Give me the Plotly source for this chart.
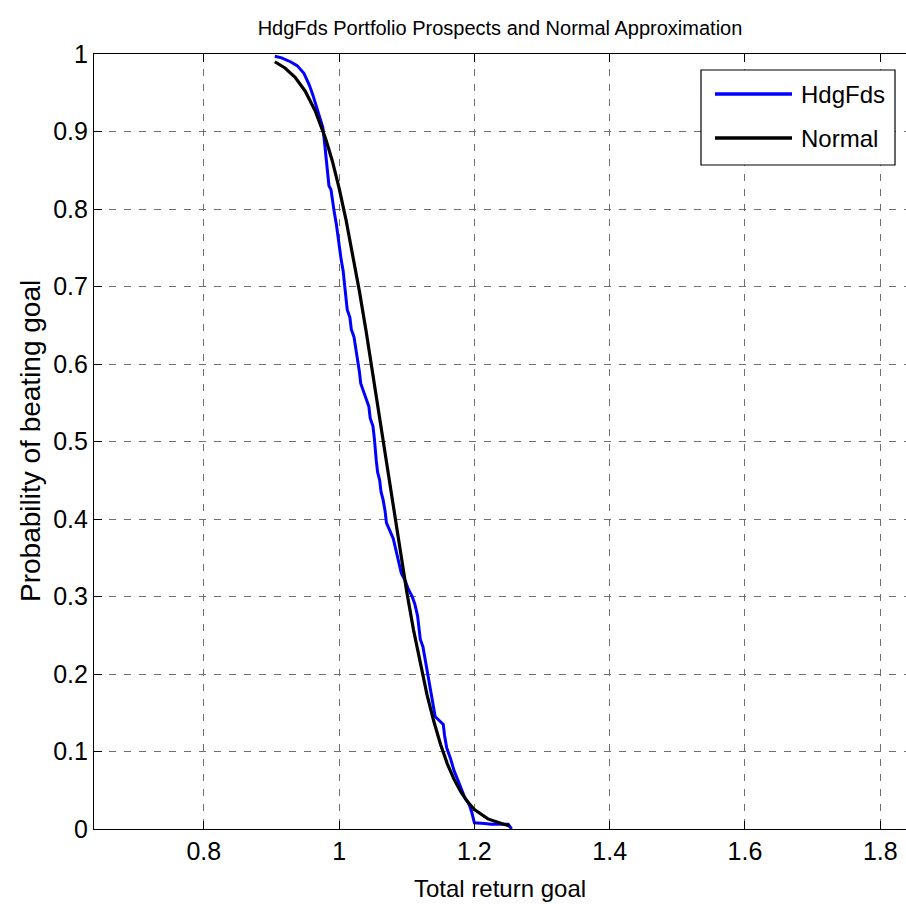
import plotly.graph_objects as go

# Data
hdg_x = [0.905, 0.915, 0.928, 0.938, 0.948, 0.956, 0.962, 0.967, 0.972, 0.976,
         0.978, 0.980, 0.981, 0.983, 0.985, 0.988, 0.990, 0.993, 0.996, 0.998,
         1.000, 1.003, 1.006, 1.008, 1.010, 1.012, 1.016, 1.018, 1.022, 1.025,
         1.028, 1.030, 1.032, 1.036, 1.040, 1.044, 1.046, 1.050, 1.052, 1.053,
         1.055, 1.057, 1.060, 1.062, 1.065, 1.068, 1.070, 1.075, 1.080, 1.084,
         1.088, 1.092, 1.098, 1.102, 1.108, 1.112, 1.116, 1.118, 1.120, 1.124,
         1.127, 1.130, 1.133, 1.136, 1.140, 1.142, 1.148, 1.154, 1.156, 1.159,
         1.165, 1.170, 1.177, 1.181, 1.186, 1.190, 1.193, 1.196, 1.198, 1.200,
         1.215, 1.225, 1.250, 1.255]
hdg_y = [0.997, 0.995, 0.990, 0.985, 0.975, 0.960, 0.945, 0.930, 0.915, 0.905,
         0.890, 0.875, 0.860, 0.845, 0.830, 0.825, 0.810, 0.795, 0.780, 0.765,
         0.750, 0.735, 0.720, 0.700, 0.685, 0.670, 0.660, 0.645, 0.635, 0.620,
         0.605, 0.590, 0.575, 0.565, 0.555, 0.545, 0.530, 0.520, 0.505, 0.490,
         0.475, 0.460, 0.450, 0.435, 0.425, 0.410, 0.395, 0.385, 0.375, 0.360,
         0.345, 0.330, 0.320, 0.310, 0.300, 0.290, 0.275, 0.260, 0.245, 0.235,
         0.220, 0.205, 0.190, 0.175, 0.160, 0.145, 0.140, 0.135, 0.120, 0.105,
         0.090, 0.075, 0.060, 0.050, 0.040, 0.035, 0.030, 0.022, 0.015, 0.008,
         0.007, 0.006, 0.006, 0.000]

norm_x = [0.905, 0.920, 0.935, 0.950, 0.965, 0.980, 0.990, 1.000, 1.010, 1.020,
          1.030, 1.040, 1.050, 1.060, 1.070, 1.080, 1.090, 1.100, 1.110, 1.120,
          1.130, 1.140, 1.150, 1.160, 1.170, 1.180, 1.190, 1.200, 1.220, 1.240,
          1.252]
norm_y = [0.990, 0.982, 0.970, 0.952, 0.926, 0.891, 0.862, 0.827, 0.787, 0.743,
          0.694, 0.642, 0.586, 0.529, 0.471, 0.414, 0.359, 0.306, 0.257, 0.213,
          0.173, 0.139, 0.109, 0.084, 0.064, 0.048, 0.035, 0.025, 0.013, 0.007,
          0.004]

x_ticks = [0.8, 1.0, 1.2, 1.4, 1.6, 1.8]
x_tick_text = ["0.8", "1", "1.2", "1.4", "1.6", "1.8"]
y_ticks = [0, 0.1, 0.2, 0.3, 0.4, 0.5, 0.6, 0.7, 0.8, 0.9, 1.0]
y_tick_text = ["0", "0.1", "0.2", "0.3", "0.4", "0.5", "0.6", "0.7", "0.8", "0.9", "1"]
series_names = ["HdgFds", "Normal"]
series_colors = ["#0000FF", "#000000"]

FONT = "Liberation Sans, Arial, Helvetica, sans-serif"

W, H = 906, 909
L, R, T, B = 94, 0, 54, 80


def px(x):
    return (x - L) / (W - L - R)


def py(y):
    return (H - B - y) / (H - T - B)


fig = go.Figure()
fig.add_trace(go.Scatter(x=hdg_x, y=hdg_y, mode="lines", name=series_names[0],
                         line=dict(color=series_colors[0], width=3), showlegend=False))
fig.add_trace(go.Scatter(x=norm_x, y=norm_y, mode="lines", name=series_names[1],
                         line=dict(color=series_colors[1], width=3.2), showlegend=False))

# MATLAB-style legend box
fig.add_shape(type="rect", xref="paper", yref="paper",
              x0=px(701), x1=px(895), y0=py(165), y1=py(70),
              line=dict(color="black", width=1.2), fillcolor="white", layer="above")
for nm, col, yy in zip(series_names, series_colors, [94, 138]):
    fig.add_shape(type="line", xref="paper", yref="paper",
                  x0=px(715), x1=px(792), y0=py(yy), y1=py(yy),
                  line=dict(color=col, width=3.5), layer="above")
    fig.add_annotation(xref="paper", yref="paper", x=px(799), y=py(yy),
                       text=nm, showarrow=False, xanchor="left", yanchor="middle",
                       font=dict(family=FONT, size=24, color="black"))

# Axis titles
fig.add_annotation(xref="paper", yref="paper", x=px(500), y=py(888),
                   text="Total return goal", showarrow=False,
                   xanchor="center", yanchor="middle",
                   font=dict(family=FONT, size=24, color="black"))
fig.add_annotation(xref="paper", yref="paper", x=px(30), y=py(441),
                   text="Probability of beating goal", showarrow=False, textangle=-90,
                   xanchor="center", yanchor="middle",
                   font=dict(family=FONT, size=28, color="black"))

fig.update_layout(
    width=W, height=H,
    margin=dict(l=L, r=R, t=T, b=B),
    paper_bgcolor="white", plot_bgcolor="white",
    font=dict(family=FONT, color="black"),
    title=dict(text="HdgFds Portfolio Prospects and Normal Approximation",
               x=500 / W, xanchor="center", y=1 - 28 / H, yanchor="middle",
               font=dict(family=FONT, size=20, color="black")),
    xaxis=dict(range=[0.6377, 1.838], tickvals=x_ticks, ticktext=x_tick_text,
               showgrid=True, gridcolor="#707070", griddash="7px,8px", gridwidth=1,
               showline=True, linecolor="black", linewidth=1.2, mirror="ticks",
               ticks="inside", ticklen=8, tickcolor="black",
               tickfont=dict(family=FONT, size=25), zeroline=False),
    yaxis=dict(range=[0, 1], tickvals=y_ticks, ticktext=y_tick_text,
               showgrid=True, gridcolor="#707070", griddash="7px,8px", gridwidth=1,
               showline=True, linecolor="black", linewidth=1.2, mirror=False,
               ticks="inside", ticklen=8, tickcolor="black",
               tickfont=dict(family=FONT, size=25), zeroline=False),
)

fig.write_html("out.html",
               config={"displayModeBar": False},
               post_script="document.body.style.margin='0';document.body.style.overflow='hidden';")
